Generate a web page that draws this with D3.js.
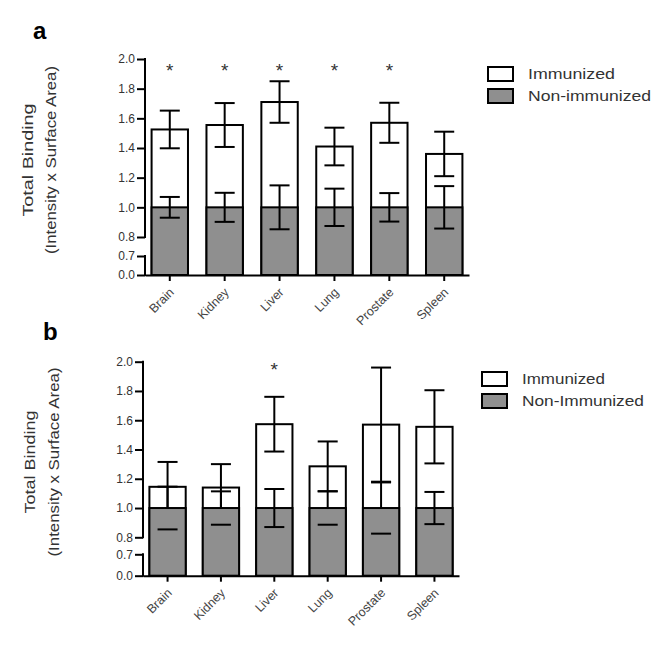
<!DOCTYPE html>
<html><head><meta charset="utf-8">
<script src="https://cdn.jsdelivr.net/npm/d3@7"></script>
<style>body{margin:0;background:#fff} svg{display:block} text{font-family:"Liberation Sans",Arial,sans-serif}</style>
</head><body><svg id="c" width="667" height="652"></svg>
<script>
// ---------- data ----------
const categories = ["Brain", "Kidney", "Liver", "Lung", "Prostate", "Spleen"];
const yTickValues = [0.0, 0.7, 0.8, 1.0, 1.2, 1.4, 1.6, 1.8, 2.0];
const seriesNames = ["Immunized", "Non-immunized"];
const seriesNamesB = ["Immunized", "Non-Immunized"];

// panel a
const immunizedA = [1.525, 1.555, 1.71, 1.41, 1.57, 1.36];
const immunizedErrA = [0.127, 0.148, 0.14, 0.127, 0.135, 0.15];
const nonImmunizedA = [1, 1, 1, 1, 1, 1];
const nonImmunizedErrA = [0.07, 0.098, 0.148, 0.126, 0.096, 0.143];
const significantA = [true, true, true, true, true, false];
const nonStemA = [true, true, true, true, true, true];

// panel b
const immunizedB = [1.145, 1.14, 1.573, 1.285, 1.57, 1.555];
const immunizedErrB = [0.17, 0.16, 0.187, 0.17, 0.39, 0.25];
const nonImmunizedB = [1, 1, 1, 1, 1, 1];
const nonImmunizedErrB = [0.146, 0.114, 0.13, 0.114, 0.175, 0.11];
const significantB = [false, false, true, false, false, false];
const nonStemB = [false, false, true, false, false, true];

// ---------- drawing ----------
const svg = d3.select("#c");
const GREY = "#8f8f8f";
const fmt = d3.format(".1f");

function panel(cfg) {
  const g = svg.append("g");
  const x = d3.scaleBand().domain(categories).range([cfg.x0, cfg.x1])
    .paddingInner(cfg.pi).paddingOuter(cfg.po);
  const y = d3.scaleLinear().domain([0, 0.7, 0.8, 2.0]).range(cfg.yr);
  const bw = x.bandwidth();
  const cx = c => x(c) + bw / 2;
  const rows = categories.map((c, i) => ({
    c, imm: cfg.imm[i], immE: cfg.immE[i], non: cfg.non[i], nonE: cfg.nonE[i],
    sig: cfg.sig[i], stem: cfg.stem[i]
  }));

  g.selectAll(".imm").data(rows).join("rect")
    .attr("x", d => x(d.c)).attr("y", d => y(d.imm))
    .attr("width", bw).attr("height", d => y(0) - y(d.imm))
    .attr("fill", "#fff").attr("stroke", "#000").attr("stroke-width", 2);
  const cap = 10;
  rows.forEach(d => {
    const X = cx(d.c);
    g.append("line").attr("x1", X).attr("x2", X).attr("y1", y(d.imm + d.immE)).attr("y2", y(d.imm - d.immE))
      .attr("stroke", "#000").attr("stroke-width", 2);
    [d.imm + d.immE, d.imm - d.immE].forEach(v =>
      g.append("line").attr("x1", X - cap).attr("x2", X + cap).attr("y1", y(v)).attr("y2", y(v))
        .attr("stroke", "#000").attr("stroke-width", 2));
  });
  g.selectAll(".non").data(rows).join("rect")
    .attr("x", d => x(d.c)).attr("y", d => y(d.non))
    .attr("width", bw).attr("height", d => y(0) - y(d.non))
    .attr("fill", GREY).attr("stroke", "#000").attr("stroke-width", 2);
  rows.forEach(d => {
    const X = cx(d.c);
    g.append("line").attr("x1", X).attr("x2", X).attr("y1", y(d.non + d.nonE))
      .attr("y2", d.stem ? y(d.non - d.nonE) : y(d.non))
      .attr("stroke", "#000").attr("stroke-width", 2);
    [d.non + d.nonE, d.non - d.nonE].forEach(v =>
      g.append("line").attr("x1", X - cap).attr("x2", X + cap).attr("y1", y(v)).attr("y2", y(v))
        .attr("stroke", "#000").attr("stroke-width", 2));
  });

  g.selectAll(".star").data(rows.filter(d => d.sig)).join("text")
    .attr("x", d => cx(d.c)).attr("y", y(2.0) + cfg.starDy)
    .attr("text-anchor", "middle").attr("font-size", 19).attr("fill", "#333").text("*");

  const ya = g.append("g").attr("transform", `translate(${cfg.x0},0)`)
    .call(d3.axisLeft(y).tickValues(yTickValues).tickFormat(fmt).tickSize(8).tickPadding(2));
  ya.select(".domain").remove();
  ya.selectAll(".tick line").attr("stroke-width", 2);
  ya.selectAll(".tick text").attr("font-size", 12).attr("fill", "#333")
    .attr("font-family", '"Liberation Sans",Arial,sans-serif');
  [[0.8, 2.0], [0, 0.7]].forEach(([a, b]) =>
    g.append("line").attr("x1", cfg.x0).attr("x2", cfg.x0).attr("y1", y(a) + 1).attr("y2", y(b) - 1)
      .attr("stroke", "#000").attr("stroke-width", 2));

  const xa = g.append("g").attr("transform", `translate(0,${y(0)})`)
    .call(d3.axisBottom(x).tickSize(6).tickSizeOuter(0));
  xa.select(".domain").attr("stroke-width", 2);
  xa.selectAll(".tick line").attr("stroke-width", 2);
  xa.selectAll(".tick text").attr("font-size", 12.5).attr("fill", "#444")
    .attr("font-family", '"Liberation Sans",Arial,sans-serif')
    .attr("text-anchor", "end").attr("dy", 0).attr("y", 0)
    .attr("transform", "translate(5,18) rotate(-45)");

  const tc = cfg.titleCy;
  g.append("text").attr("transform", `translate(${cfg.t1x},${tc}) rotate(-90)`)
    .attr("text-anchor", "middle").attr("font-size", 14).attr("fill", "#333")
    .attr("textLength", cfg.t1len).attr("lengthAdjust", "spacingAndGlyphs").text("Total Binding");
  g.append("text").attr("transform", `translate(${cfg.t2x},${tc}) rotate(-90)`)
    .attr("text-anchor", "middle").attr("font-size", 14).attr("fill", "#333")
    .attr("textLength", cfg.t2len).attr("lengthAdjust", "spacingAndGlyphs").text("(Intensity x Surface Area)");

  g.append("text").attr("x", cfg.lx).attr("y", cfg.ly).attr("font-size", 24).attr("font-weight", "bold")
    .attr("fill", "#000").text(cfg.letter);

  cfg.names.forEach((n, i) => {
    const ly = cfg.legY + i * 22;
    g.append("rect").attr("x", cfg.legX).attr("y", ly).attr("width", 25).attr("height", 14)
      .attr("fill", i === 0 ? "#fff" : GREY).attr("stroke", "#000").attr("stroke-width", 2);
    g.append("text").attr("x", cfg.legX + 40).attr("y", ly + 12).attr("font-size", 14).attr("fill", "#333")
      .attr("textLength", cfg.legLen[i]).attr("lengthAdjust", "spacingAndGlyphs").text(n);
  });
}

panel({
  x0: 145, x1: 469, pi: 0.337, po: 0.12, yr: [275, 256, 237, 59],
  imm: immunizedA, immE: immunizedErrA, non: nonImmunizedA, nonE: nonImmunizedErrA,
  sig: significantA, stem: nonStemA, starDy: 18,
  titleCy: 160, t1x: 33, t2x: 56, t1len: 113, t2len: 188,
  lx: 33, ly: 39, letter: "a",
  names: seriesNames, legX: 488, legY: 67, legLen: [87, 123]
});
panel({
  x0: 143, x1: 459, pi: 0.32, po: 0.12, yr: [575.7, 554.3, 537.3, 361.7],
  imm: immunizedB, immE: immunizedErrB, non: nonImmunizedB, nonE: nonImmunizedErrB,
  sig: significantB, stem: nonStemB, starDy: 14,
  titleCy: 462, t1x: 35, t2x: 59, t1len: 103, t2len: 189,
  lx: 43, ly: 340, letter: "b",
  names: seriesNamesB, legX: 482, legY: 372, legLen: [83, 122]
});
</script></body></html>
